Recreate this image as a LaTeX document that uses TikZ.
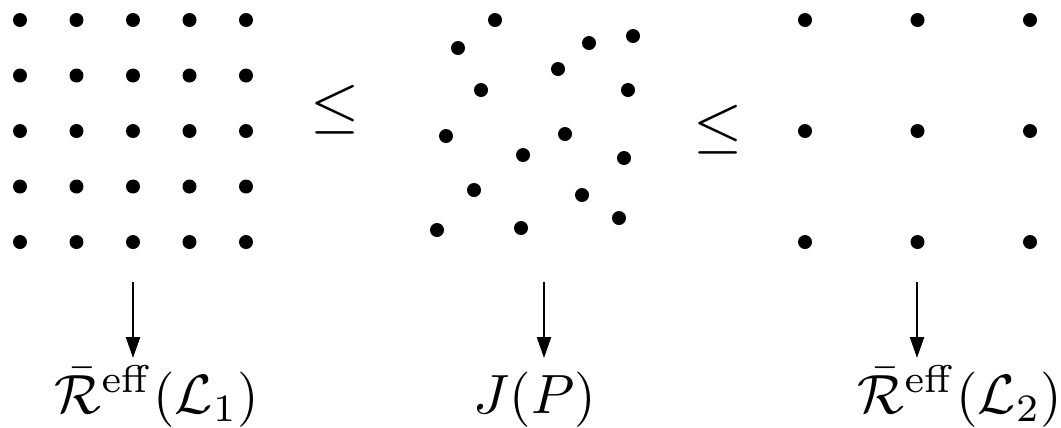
\RequirePackage{fix-cm}
\documentclass[tikz,border=0pt]{standalone}
\usepackage{amsmath}
\usepackage{tikz}
\usetikzlibrary{arrows.meta,calc}
\tikzset{
  latdot/.style={circle, fill=black, inner sep=0pt, minimum size=0.28cm},
  maparrow/.style={-{Triangle[length=0.42cm, width=0.28cm]}, line width=1.35pt},
  biglabel/.style={inner sep=0pt, anchor=base, scale=3.15, transform shape},
  relsign/.style={inner sep=0pt, font=\fontsize{36}{42}\selectfont}
}

\begin{document}
\begin{tikzpicture}[x=0.02cm, y=-0.02cm]
\useasboundingbox (0,0) rectangle (1061,427);

% fine lattice L_1
\foreach \i in {0,...,4}
  \foreach \j in {0,...,4}
    \node[latdot] (fine-\i-\j) at (20+56.5*\i, 20+55.5*\j) {};

% point configuration P
\foreach \px/\py [count=\k] in {495/20, 458/48, 589/43, 633/36, 558/69, 481/90,
    628/90, 446/136, 565/134, 523/155, 624/158, 474/190, 582/195, 437/230,
    521/228, 619/218}
  \node[latdot] (pt-\k) at (\px,\py) {};

% coarse lattice L_2
\foreach \i in {0,...,2}
  \foreach \j in {0,...,2}
    \node[latdot] (coarse-\i-\j) at (805+112.5*\i, 20+111*\j) {};

\node[relsign] (leq1) at (335,110) {$\leq$};
\node[relsign] (leq2) at (718,130) {$\leq$};

\node[biglabel] (lab1) at (157,413) {$\bar{\mathcal{R}}^{\mathrm{eff}}(\mathcal{L}_1)$};
\node[biglabel] (lab2) at (535,413) {$J(P)$};
\node[biglabel] (lab3) at (960,413) {$\bar{\mathcal{R}}^{\mathrm{eff}}(\mathcal{L}_2)$};

\coordinate (src1) at (133,282);
\coordinate (src2) at (544,282);
\coordinate (src3) at (917,282);
\coordinate (tip1) at (133,358);
\coordinate (tip2) at (544,358);
\coordinate (tip3) at (917,358);

\draw[maparrow] (src1) -- (tip1);
\draw[maparrow] (src2) -- (tip2);
\draw[maparrow] (src3) -- (tip3);
\end{tikzpicture}
\end{document}
